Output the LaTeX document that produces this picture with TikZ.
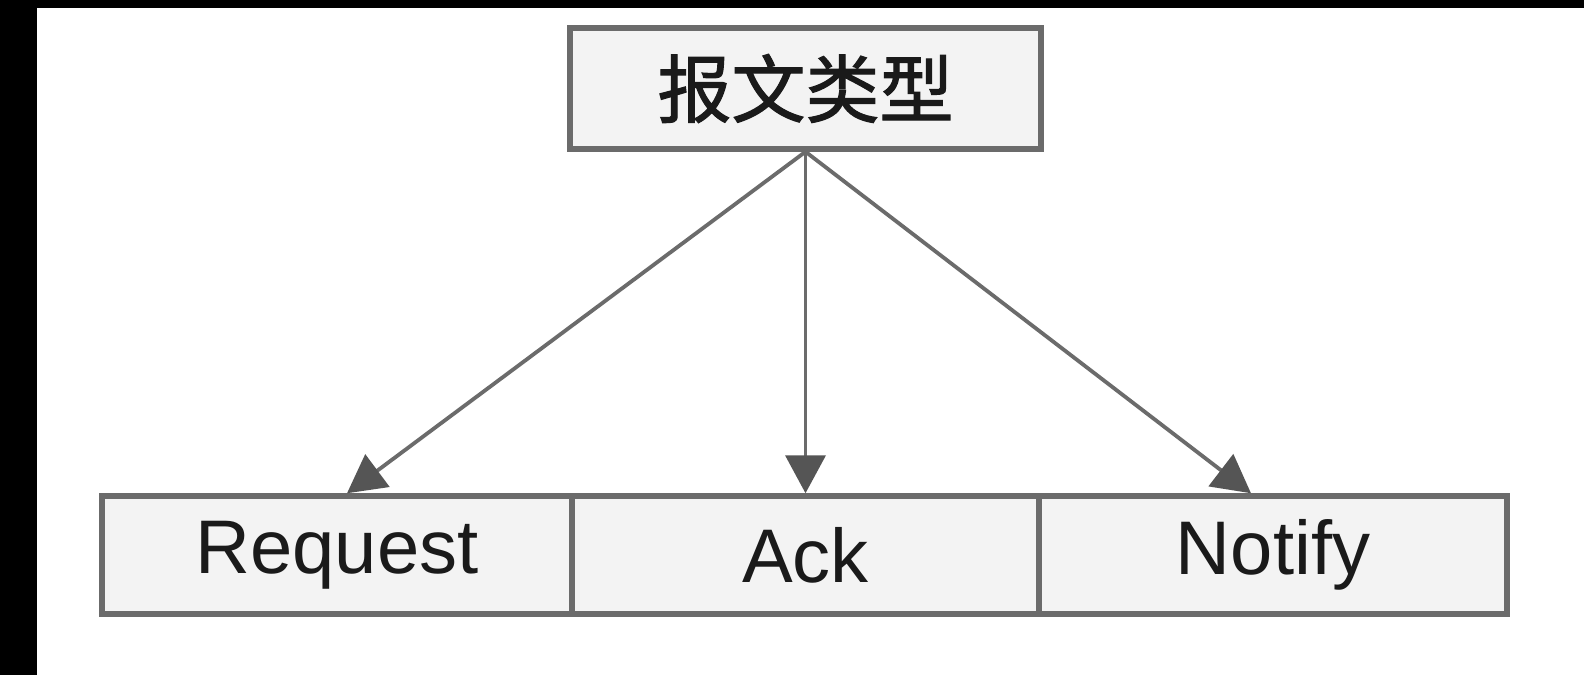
\documentclass[tikz,border=0pt]{standalone}
\usepackage{fontspec}
\setmainfont{Liberation Sans}
\newfontfamily\cjk[FakeBold=1.5]{Noto Sans CJK SC}
\usetikzlibrary{arrows.meta,calc}
\definecolor{edgegray}{HTML}{6B6B6B}
\definecolor{tipgray}{HTML}{555555}
\definecolor{boxfill}{HTML}{F3F3F3}
\definecolor{txt}{HTML}{1A1A1A}
\begin{document}
\begin{tikzpicture}[x=0.5pt,y=-0.5pt,
  box/.style={draw=edgegray, line width=2.75pt, fill=boxfill, inner sep=0pt,
    minimum height=59pt, text=txt, font=\fontsize{38}{40}\selectfont},
  link/.style={draw=edgegray, line width=1.9pt,
    -{Triangle[width=20pt,length=19pt,fill=tipgray,color=tipgray]}}]
\useasboundingbox (0,0) rectangle (1584,675);
\fill[white] (0,0) rectangle (1584,675);
\fill[black] (0,0) rectangle (37,675);
\fill[black] (0,0) rectangle (1584,8);
\node[box, minimum width=235.5pt, minimum height=60.5pt, font=\cjk\fontsize{37}{40}\selectfont] (top) at (805.5,88.5) {报文类型};
\node[box, minimum width=235pt] (req) at (337,555) {Request};
\node[box, minimum width=233.5pt] (ack) at (805.5,555) {Ack};
\node[box, minimum width=234pt] (notify) at (1273,555) {Notify};
\coordinate (src) at (top.south);
\draw[link] (src) -- ($(req.north)+(10,0)$);
\draw[link] (src) -- (ack.north);
\draw[link] (src) -- ($(notify.north)+(-22,0)$);
\end{tikzpicture}
\end{document}
